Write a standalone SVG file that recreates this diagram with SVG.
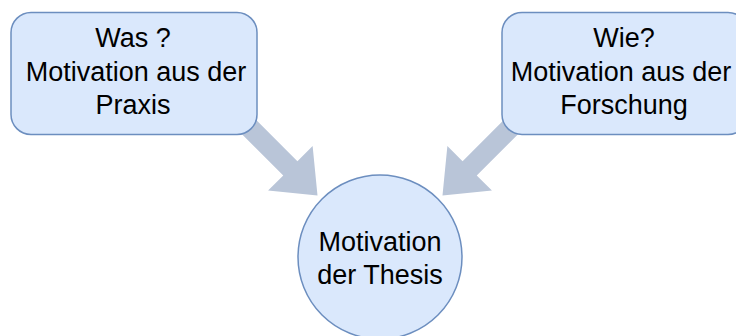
<svg xmlns="http://www.w3.org/2000/svg" width="736" height="336" viewBox="0 0 736 336">
  <style>
    .node { fill: #dae8fc; stroke: #6c8ebf; stroke-width: 1.5; }
    .label { font-family: "Liberation Sans", Arial, sans-serif; font-size: 27px; fill: #000000; text-anchor: middle; }
    .flow { fill: #b9c5d8; stroke: none; }
  </style>
  <defs>
    <!-- block arrow pointing along +x, tip at the origin -->
    <path id="blockArrow" d="M0,0 L-38.4,-31.5 L-38.4,-10 L-112,-10 L-112,10 L-38.4,10 L-38.4,31.5 Z"/>
  </defs>

  <g id="connectors">
    <use href="#blockArrow" class="flow" transform="translate(317.5,195.5) rotate(45)"/>
    <use href="#blockArrow" class="flow" transform="translate(442.5,195.5) rotate(135)"/>
  </g>

  <g id="node-was">
    <rect class="node" x="11" y="12.5" width="246" height="122" rx="20" ry="20"/>
    <text class="label" x="133" y="47">Was ?</text>
    <text class="label" x="136" y="80.5">Motivation aus der</text>
    <text class="label" x="133" y="114">Praxis</text>
  </g>

  <g id="node-wie">
    <rect class="node" x="502" y="12.5" width="246" height="122" rx="20" ry="20"/>
    <text class="label" x="624" y="47">Wie?</text>
    <text class="label" x="621" y="80.5">Motivation aus der</text>
    <text class="label" x="624" y="114">Forschung</text>
  </g>

  <g id="node-thesis">
    <circle class="node" cx="380" cy="257" r="82"/>
    <text class="label" x="380" y="251">Motivation</text>
    <text class="label" x="380" y="284">der Thesis</text>
  </g>
</svg>
